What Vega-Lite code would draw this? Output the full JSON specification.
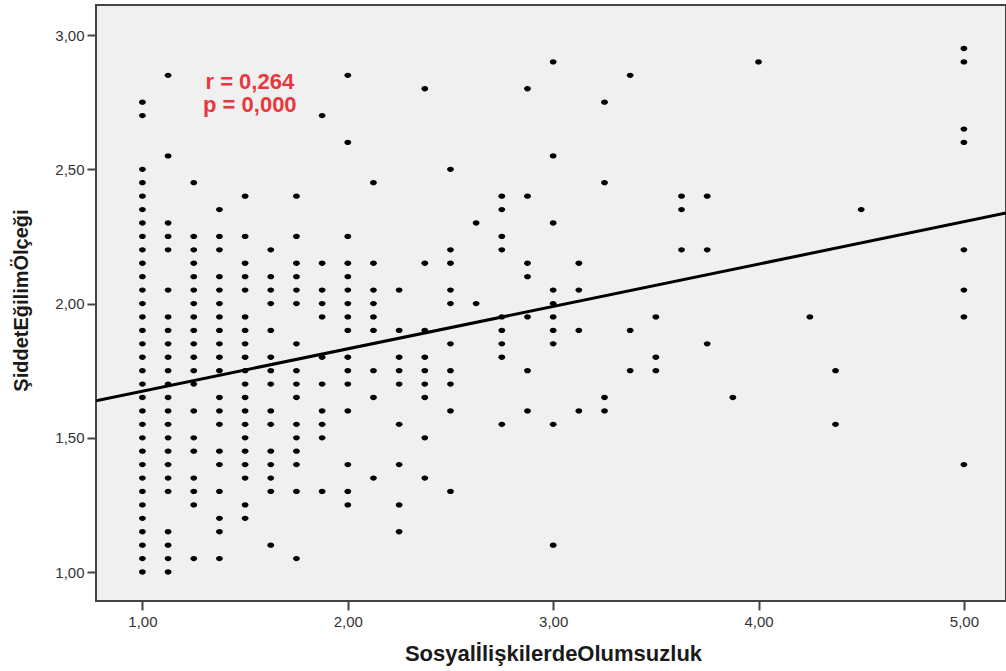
{
  "$schema": "https://vega.github.io/schema/vega-lite/v6.json",
  "width": 910,
  "height": 596,
  "autosize": {"type": "none"},
  "padding": {"left": 96, "top": 5, "right": 0, "bottom": 70},
  "background": "white",
  "config": {
    "view": {"fill": "#f0f0f0", "stroke": "#444444", "strokeWidth": 2},
    "font": "Liberation Sans"
  },
  "datasets": {
    "pts": [
      {"x":1,"y":2.75},{"x":1,"y":2.7},{"x":1,"y":2.5},{"x":1,"y":2.45},{"x":1,"y":2.4},{"x":1,"y":2.35},{"x":1,"y":2.3},{"x":1,"y":2.25},{"x":1,"y":2.2},{"x":1,"y":2.15},{"x":1,"y":2.1},{"x":1,"y":2.05},{"x":1,"y":2.0},{"x":1,"y":1.95},{"x":1,"y":1.9},{"x":1,"y":1.85},{"x":1,"y":1.8},{"x":1,"y":1.75},{"x":1,"y":1.7},{"x":1,"y":1.65},{"x":1,"y":1.6},{"x":1,"y":1.55},{"x":1,"y":1.5},{"x":1,"y":1.45},{"x":1,"y":1.4},{"x":1,"y":1.35},{"x":1,"y":1.3},{"x":1,"y":1.25},{"x":1,"y":1.2},{"x":1,"y":1.15},{"x":1,"y":1.1},{"x":1,"y":1.05},{"x":1,"y":1.0},
      {"x":1.125,"y":2.85},{"x":1.125,"y":2.55},{"x":1.125,"y":2.3},{"x":1.125,"y":2.25},{"x":1.125,"y":2.2},{"x":1.125,"y":2.05},{"x":1.125,"y":1.95},{"x":1.125,"y":1.9},{"x":1.125,"y":1.85},{"x":1.125,"y":1.8},{"x":1.125,"y":1.75},{"x":1.125,"y":1.7},{"x":1.125,"y":1.65},{"x":1.125,"y":1.6},{"x":1.125,"y":1.55},{"x":1.125,"y":1.5},{"x":1.125,"y":1.45},{"x":1.125,"y":1.4},{"x":1.125,"y":1.35},{"x":1.125,"y":1.3},{"x":1.125,"y":1.15},{"x":1.125,"y":1.1},{"x":1.125,"y":1.05},{"x":1.125,"y":1.0},
      {"x":1.25,"y":2.45},{"x":1.25,"y":2.25},{"x":1.25,"y":2.2},{"x":1.25,"y":2.15},{"x":1.25,"y":2.1},{"x":1.25,"y":2.05},{"x":1.25,"y":2.0},{"x":1.25,"y":1.95},{"x":1.25,"y":1.9},{"x":1.25,"y":1.85},{"x":1.25,"y":1.8},{"x":1.25,"y":1.75},{"x":1.25,"y":1.7},{"x":1.25,"y":1.6},{"x":1.25,"y":1.5},{"x":1.25,"y":1.45},{"x":1.25,"y":1.35},{"x":1.25,"y":1.3},{"x":1.25,"y":1.25},{"x":1.25,"y":1.05},
      {"x":1.375,"y":2.35},{"x":1.375,"y":2.25},{"x":1.375,"y":2.2},{"x":1.375,"y":2.1},{"x":1.375,"y":2.05},{"x":1.375,"y":2.0},{"x":1.375,"y":1.95},{"x":1.375,"y":1.9},{"x":1.375,"y":1.85},{"x":1.375,"y":1.8},{"x":1.375,"y":1.75},{"x":1.375,"y":1.65},{"x":1.375,"y":1.6},{"x":1.375,"y":1.55},{"x":1.375,"y":1.45},{"x":1.375,"y":1.4},{"x":1.375,"y":1.3},{"x":1.375,"y":1.2},{"x":1.375,"y":1.15},{"x":1.375,"y":1.05},
      {"x":1.5,"y":2.4},{"x":1.5,"y":2.25},{"x":1.5,"y":2.15},{"x":1.5,"y":2.1},{"x":1.5,"y":2.05},{"x":1.5,"y":1.95},{"x":1.5,"y":1.9},{"x":1.5,"y":1.85},{"x":1.5,"y":1.8},{"x":1.5,"y":1.75},{"x":1.5,"y":1.7},{"x":1.5,"y":1.65},{"x":1.5,"y":1.6},{"x":1.5,"y":1.55},{"x":1.5,"y":1.5},{"x":1.5,"y":1.45},{"x":1.5,"y":1.4},{"x":1.5,"y":1.35},{"x":1.5,"y":1.25},{"x":1.5,"y":1.2},
      {"x":1.625,"y":2.2},{"x":1.625,"y":2.1},{"x":1.625,"y":2.05},{"x":1.625,"y":2.0},{"x":1.625,"y":1.9},{"x":1.625,"y":1.8},{"x":1.625,"y":1.75},{"x":1.625,"y":1.7},{"x":1.625,"y":1.6},{"x":1.625,"y":1.55},{"x":1.625,"y":1.45},{"x":1.625,"y":1.4},{"x":1.625,"y":1.35},{"x":1.625,"y":1.3},{"x":1.625,"y":1.1},
      {"x":1.75,"y":2.4},{"x":1.75,"y":2.25},{"x":1.75,"y":2.15},{"x":1.75,"y":2.1},{"x":1.75,"y":2.05},{"x":1.75,"y":2.0},{"x":1.75,"y":1.85},{"x":1.75,"y":1.75},{"x":1.75,"y":1.7},{"x":1.75,"y":1.65},{"x":1.75,"y":1.55},{"x":1.75,"y":1.5},{"x":1.75,"y":1.45},{"x":1.75,"y":1.4},{"x":1.75,"y":1.3},{"x":1.75,"y":1.05},
      {"x":1.875,"y":2.7},{"x":1.875,"y":2.15},{"x":1.875,"y":2.05},{"x":1.875,"y":2.0},{"x":1.875,"y":1.95},{"x":1.875,"y":1.8},{"x":1.875,"y":1.7},{"x":1.875,"y":1.6},{"x":1.875,"y":1.55},{"x":1.875,"y":1.5},{"x":1.875,"y":1.3},
      {"x":2,"y":2.85},{"x":2,"y":2.6},{"x":2,"y":2.25},{"x":2,"y":2.15},{"x":2,"y":2.1},{"x":2,"y":2.05},{"x":2,"y":2.0},{"x":2,"y":1.95},{"x":2,"y":1.9},{"x":2,"y":1.8},{"x":2,"y":1.75},{"x":2,"y":1.7},{"x":2,"y":1.6},{"x":2,"y":1.4},{"x":2,"y":1.3},{"x":2,"y":1.25},
      {"x":2.125,"y":2.45},{"x":2.125,"y":2.15},{"x":2.125,"y":2.05},{"x":2.125,"y":2.0},{"x":2.125,"y":1.95},{"x":2.125,"y":1.9},{"x":2.125,"y":1.75},{"x":2.125,"y":1.65},{"x":2.125,"y":1.35},
      {"x":2.25,"y":2.05},{"x":2.25,"y":1.9},{"x":2.25,"y":1.8},{"x":2.25,"y":1.75},{"x":2.25,"y":1.7},{"x":2.25,"y":1.55},{"x":2.25,"y":1.4},{"x":2.25,"y":1.25},{"x":2.25,"y":1.15},
      {"x":2.375,"y":2.8},{"x":2.375,"y":2.15},{"x":2.375,"y":1.9},{"x":2.375,"y":1.8},{"x":2.375,"y":1.75},{"x":2.375,"y":1.7},{"x":2.375,"y":1.65},{"x":2.375,"y":1.5},{"x":2.375,"y":1.35},
      {"x":2.5,"y":2.5},{"x":2.5,"y":2.2},{"x":2.5,"y":2.15},{"x":2.5,"y":2.05},{"x":2.5,"y":2.0},{"x":2.5,"y":1.85},{"x":2.5,"y":1.75},{"x":2.5,"y":1.7},{"x":2.5,"y":1.6},{"x":2.5,"y":1.3},
      {"x":2.625,"y":2.3},{"x":2.625,"y":2.0},
      {"x":2.75,"y":2.4},{"x":2.75,"y":2.35},{"x":2.75,"y":2.25},{"x":2.75,"y":2.2},{"x":2.75,"y":1.95},{"x":2.75,"y":1.9},{"x":2.75,"y":1.85},{"x":2.75,"y":1.8},{"x":2.75,"y":1.55},
      {"x":2.875,"y":2.8},{"x":2.875,"y":2.4},{"x":2.875,"y":2.15},{"x":2.875,"y":2.1},{"x":2.875,"y":1.95},{"x":2.875,"y":1.75},{"x":2.875,"y":1.6},
      {"x":3,"y":2.9},{"x":3,"y":2.55},{"x":3,"y":2.3},{"x":3,"y":2.05},{"x":3,"y":2.0},{"x":3,"y":1.95},{"x":3,"y":1.9},{"x":3,"y":1.85},{"x":3,"y":1.55},{"x":3,"y":1.1},
      {"x":3.125,"y":2.15},{"x":3.125,"y":2.05},{"x":3.125,"y":1.9},{"x":3.125,"y":1.6},
      {"x":3.25,"y":2.75},{"x":3.25,"y":2.45},{"x":3.25,"y":1.65},{"x":3.25,"y":1.6},
      {"x":3.375,"y":2.85},{"x":3.375,"y":1.9},{"x":3.375,"y":1.75},
      {"x":3.5,"y":1.95},{"x":3.5,"y":1.8},{"x":3.5,"y":1.75},
      {"x":3.625,"y":2.4},{"x":3.625,"y":2.35},{"x":3.625,"y":2.2},
      {"x":3.75,"y":2.4},{"x":3.75,"y":2.2},{"x":3.75,"y":1.85},
      {"x":3.875,"y":1.65},
      {"x":4,"y":2.9},
      {"x":4.25,"y":1.95},
      {"x":4.375,"y":1.75},{"x":4.375,"y":1.55},
      {"x":4.5,"y":2.35},
      {"x":5,"y":2.95},{"x":5,"y":2.9},{"x":5,"y":2.65},{"x":5,"y":2.6},{"x":5,"y":2.2},{"x":5,"y":2.05},{"x":5,"y":1.95},{"x":5,"y":1.4}
    ],
    "fit": [
      {"x": 0.774, "y": 1.638},
      {"x": 5.205, "y": 2.337}
    ],
    "notes": [
      {"x": 1.523, "y": 2.825, "label": "r = 0,264\np = 0,000"}
    ]
  },
  "encoding": {
    "x": {
      "field": "x", "type": "quantitative",
      "scale": {"domain": [0.774, 5.205], "nice": false, "zero": false},
      "axis": {
        "values": [1, 2, 3, 4, 5],
        "labelExpr": "replace(format(datum.value, '.2f'), '.', ',')",
        "grid": false, "domain": false,
        "tickColor": "#444444", "tickSize": 9, "tickWidth": 2,
        "labelFontSize": 15, "labelColor": "#333333", "labelPadding": 4,
        "title": "SosyalİlişkilerdeOlumsuzluk",
        "titleFontSize": 22, "titleFontWeight": "bold", "titleColor": "#1a1a1a",
        "titleX": 457, "titleY": 52, "titleBaseline": "middle"
      }
    },
    "y": {
      "field": "y", "type": "quantitative",
      "scale": {"domain": [0.892, 3.112], "nice": false, "zero": false},
      "axis": {
        "values": [1, 1.5, 2, 2.5, 3],
        "labelExpr": "replace(format(datum.value, '.2f'), '.', ',')",
        "grid": false, "domain": false,
        "tickColor": "#444444", "tickSize": 9, "tickWidth": 2,
        "labelFontSize": 15, "labelColor": "#333333", "labelPadding": 3,
        "title": "ŞiddetEğilimÖlçeği",
        "titleFontSize": 20, "titleFontWeight": "bold", "titleColor": "#1a1a1a",
        "titleX": -75, "titleY": 295, "titleAngle": -90,
        "titleAlign": "center", "titleBaseline": "middle"
      }
    }
  },
  "layer": [
    {
      "data": {"name": "pts"},
      "mark": {
        "type": "point", "filled": true, "color": "#000000", "opacity": 1,
        "shape": "M-1,0A1,0.78,0,1,1,1,0A1,0.78,0,1,1,-1,0Z",
        "size": 46, "strokeWidth": 0
      }
    },
    {
      "data": {"name": "fit"},
      "mark": {"type": "line", "color": "#000000", "strokeWidth": 3, "clip": true},
      "encoding": {}
    },
    {
      "data": {"name": "notes"},
      "mark": {"type": "text", "color": "#e8383f", "fontSize": 22, "fontWeight": "bold", "align": "center", "baseline": "middle", "lineBreak": "\n", "lineHeight": 23},
      "encoding": {"text": {"field": "label", "type": "nominal"}}
    }
  ]
}
